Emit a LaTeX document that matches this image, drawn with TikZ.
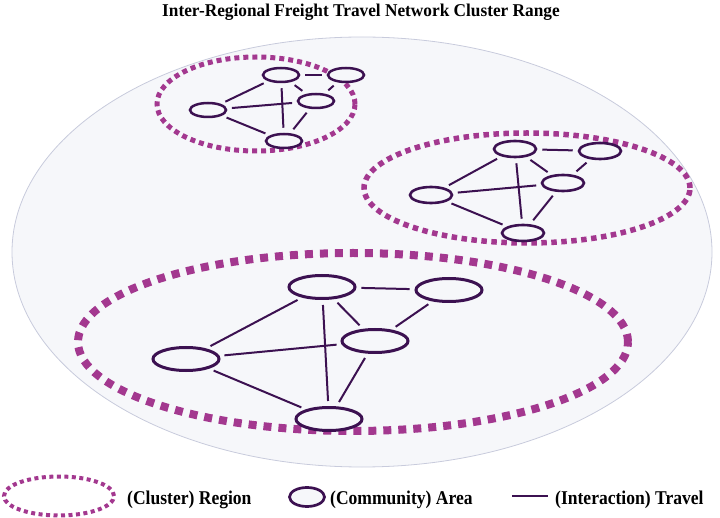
\documentclass[tikz,border=0pt]{standalone}
\usepackage{fontspec}
\setmainfont{Liberation Serif}
\usetikzlibrary{shapes.geometric}

\definecolor{regioncol}{HTML}{A3388F}
\definecolor{areacol}{HTML}{3C1151}
\definecolor{rangefill}{HTML}{F6F7FA}
\definecolor{rangeline}{HTML}{C8CBDC}

\newcommand{\legtext}[1]{\scalebox{0.9}[1]{#1}}

\begin{document}
\begin{tikzpicture}[x=1pt, y=-1pt,
    area/.style={ellipse, draw=areacol, fill=rangefill, inner sep=0pt},
    travel/.style={draw=areacol, line width=2pt, shorten <=5pt, shorten >=5pt},
    region/.style={draw=regioncol},
    legendtext/.style={anchor=base west, inner sep=0pt, font=\bfseries\fontsize{19.5}{22}\selectfont}]
  \useasboundingbox (0,0) rectangle (720,518);

  \node[anchor=base, inner sep=0pt, font=\bfseries\fontsize{18}{21}\selectfont] (title) at (361,16.5)
    {\scalebox{0.96}[1]{Inter-Regional Freight Travel Network Cluster Range}};

  % whole range
  \draw[fill=rangefill, draw=rangeline, line width=0.8pt] (362,252) ellipse (350pt and 215pt);

  % cluster regions
  \draw[region, line width=5pt, dash pattern=on 5pt off 4pt] (256,104) ellipse (99pt and 47pt);
  \draw[region, line width=5.5pt, dash pattern=on 5.5pt off 4.5pt] (527,188) ellipse (163pt and 55pt);
  \draw[region, line width=8pt, dash pattern=on 8pt off 7pt] (353,342) ellipse (275pt and 89pt);

  % community areas
  \begin{scope}[every node/.style={area, line width=2.5pt, minimum width=36pt, minimum height=14pt}]
    \node (A1) at (281,75) {};
    \node (B1) at (346,75) {};
    \node (C1) at (316,101) {};
    \node (D1) at (208,110) {};
    \node (E1) at (284,141) {};
  \end{scope}
  \begin{scope}[every node/.style={area, line width=2.6pt, minimum width=42pt, minimum height=16pt}]
    \node (A2) at (515,149) {};
    \node (B2) at (600,151) {};
    \node (C2) at (563,183) {};
    \node (D2) at (431,195) {};
    \node (E2) at (523,233) {};
  \end{scope}
  \begin{scope}[every node/.style={area, line width=3pt, minimum width=66pt, minimum height=23pt}]
    \node (A3) at (322,287) {};
    \node (B3) at (449,290) {};
    \node (C3) at (375,341) {};
    \node (D3) at (186,359) {};
    \node (E3) at (329,419) {};
  \end{scope}

  % travel links
  \foreach \k in {1,2,3}
    \foreach \s/\t in {A/B, A/C, A/D, A/E, B/C, D/C, D/E, C/E}
      \draw[travel] (\s\k) -- (\t\k);

  % legend
  \draw[region, line width=4pt, dash pattern=on 4pt off 3.5pt] (59,496) ellipse (55pt and 19.5pt);
  \node[legendtext] (regtext) at (127,504) {\legtext{(Cluster) Region}};
  \node[area, line width=2.7pt, minimum width=35pt, minimum height=19pt] (legarea) at (307,497) {};
  \node[legendtext] (areatext) at (330,504) {\legtext{(Community) Area}};
  \coordinate (legline) at (512,496);
  \node[legendtext] (traveltext) at (555,504) {\legtext{(Interaction) Travel}};
  \draw[draw=areacol, line width=2.5pt] (legline) -- ++(36,0);
\end{tikzpicture}
\end{document}
